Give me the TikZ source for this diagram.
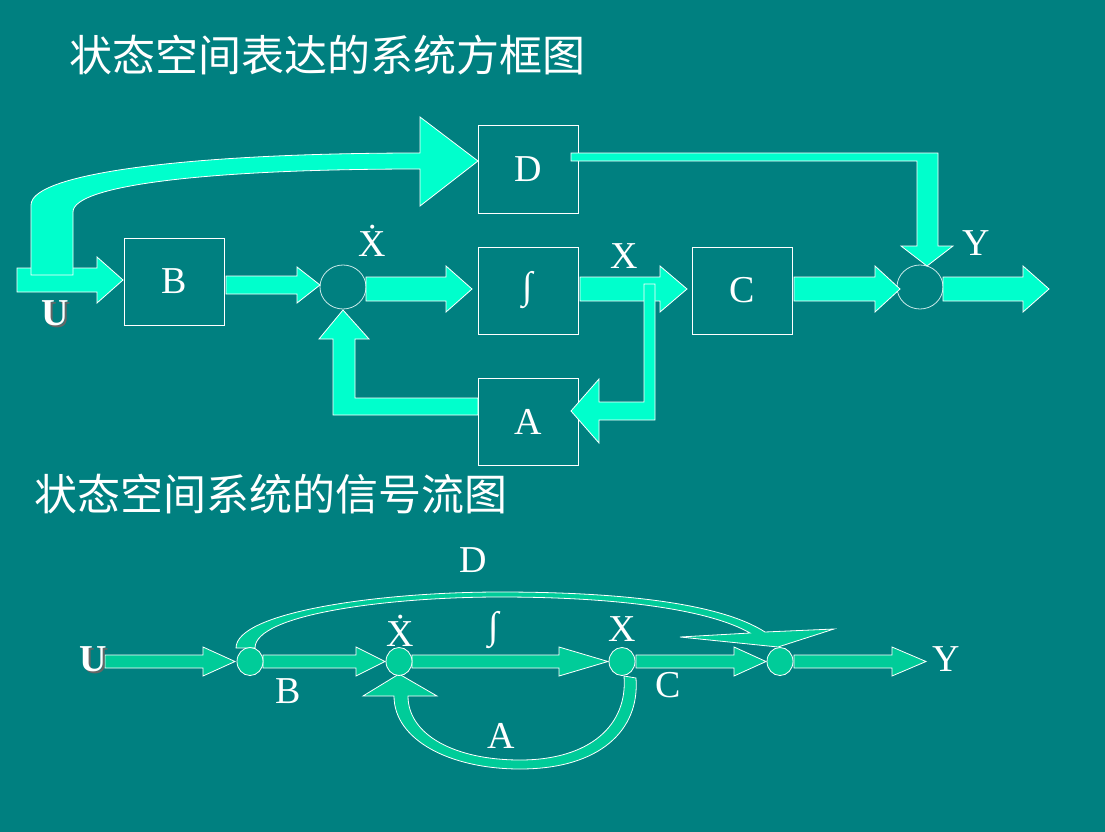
\documentclass[tikz,border=0pt]{standalone}
\usepackage{fontspec}
\setmainfont{Liberation Serif}
\newfontfamily\cjk{Noto Sans CJK SC}
\usetikzlibrary{shapes.geometric}
\definecolor{bg}{HTML}{008080}
\definecolor{cy}{HTML}{00FFCC}
\definecolor{gr}{HTML}{00CC99}
\definecolor{circ}{HTML}{C8E8E8}
\tikzset{
 blk/.style={draw=white, line width=1pt, minimum width=100pt, minimum height=87pt, inner sep=0pt, text=white, font=\fontsize{38}{42}\selectfont},
 lbl/.style={text=white, font=\fontsize{38}{42}\selectfont, inner sep=0pt},
 ulbl/.style={text=white, font=\bfseries\fontsize{38}{42}\selectfont, inner sep=0pt},
 ushadow/.style={text=black!60, font=\bfseries\fontsize{38}{42}\selectfont, inner sep=0pt},
 ttl/.style={text=white, font=\cjk\fontsize{43}{47}\selectfont, inner sep=0pt, anchor=west},
 barr/.style={fill=cy, draw=white, line width=0.8pt, line join=miter},
 garr/.style={fill=gr, draw=white, line width=0.8pt, line join=miter},
 sumnode/.style={draw=circ, line width=0.8pt, ellipse, minimum width=46pt, minimum height=44pt, inner sep=0pt},
 flownode/.style={fill=gr, draw=white, line width=0.8pt, ellipse, minimum width=26pt, minimum height=28pt, inner sep=0pt},
}
% style, x1, xh, xt, yc, half body, half head
\newcommand{\harr}[7]{%
 \path[#1] (#2,#5-#6) -- (#3,#5-#6) -- (#3,#5-#7) -- (#4,#5) -- (#3,#5+#7) -- (#3,#5+#6) -- (#2,#5+#6) -- cycle;}
\begin{document}
\begin{tikzpicture}[x=1pt,y=-1pt]
\fill[bg] (0,0) rectangle (1105,832);
\useasboundingbox (0,0) rectangle (1105,832);
% titles
\node[ttl] (t1) at (69,55) {状态空间表达的系统方框图};
\node[ttl] (t2) at (34,494) {状态空间系统的信号流图};
% ---------- block diagram ----------
\harr{barr}{17}{97}{123}{280}{12}{23}
\path[barr] (31,275) -- (31,205) .. controls (31,172) and (200,153) .. (420,153) -- (420,117) -- (478,161) -- (420,206) -- (420,169) .. controls (210,169) and (73,185) .. (73,212) -- (73,275) -- cycle;
\node[blk] (B) at (174,281.5) {B};
\node[blk] (D) at (528,169.5) {D};
\node[blk] (I) at (528,290.5) {∫};
\node[blk] (C) at (742,290.5) {C};
\node[blk] (A) at (528,421.5) {A};
\node[sumnode] (s1) at (343,287) {};
\node[sumnode] (s2) at (920,287) {};
\harr{barr}{226}{297}{320}{285}{9}{18}
\harr{barr}{366}{446}{472}{289}{12}{23}
\harr{barr}{580}{660}{687}{289}{12}{23}
\harr{barr}{794}{875}{900}{289}{12}{23}
\harr{barr}{943}{1023}{1049}{289}{12}{23}
% D -> sum2
\path[barr] (571,153) -- (938,153) -- (938,246) -- (953,246) -- (927,266) -- (901,246) -- (917,246) -- (917,161) -- (571,161) -- cycle;
% X branch -> A
\path[barr] (644,284) -- (655,284) -- (655,420) -- (599,420) -- (599,443) -- (571,411) -- (599,379) -- (599,402) -- (644,402) -- cycle;
% A -> sum1
\path[barr] (478,398) -- (355,398) -- (355,339) -- (369,339) -- (343,310) -- (319,339) -- (333,339) -- (333,415) -- (478,415) -- cycle;
% labels
\node[lbl, anchor=base] (xd1) at (372,256) {\.{X}};
\node[lbl, anchor=base] (x1) at (624,268) {X};
\node[lbl, anchor=base] (y1) at (976,255) {Y};
\node[ushadow, anchor=base] at (57,327) {U};
\node[ulbl, anchor=base] (u1) at (55,325) {U};
% ---------- signal flow graph ----------
\path[garr] (236,648) .. controls (236,612) and (380,592) .. (500,592) .. controls (620,592) and (720,603) .. (765,632) -- (834,629) -- (778,647) -- (680,637) -- (750,633) .. controls (710,610) and (620,597) .. (500,597) .. controls (390,597) and (255,614) .. (255,648) -- cycle;
\path[garr] (408,696) .. controls (408,735) and (455,760) .. (520,760) .. controls (590,760) and (628,725) .. (624,676) -- (636,678) .. controls (640,730) and (600,769) .. (520,769) .. controls (450,769) and (394,740) .. (394,696) -- (363,696) -- (399,674) -- (437,696) -- cycle;
\harr{garr}{105}{203}{235}{661.5}{6.5}{14.5}
\harr{garr}{263}{356}{385}{661.5}{6.5}{14.5}
\harr{garr}{412}{559}{608}{661.5}{6.5}{14.5}
\harr{garr}{636}{734}{766}{661.5}{6.5}{14.5}
\harr{garr}{794}{892}{926}{661.5}{6.5}{14.5}
\node[flownode] (n1) at (250,661.5) {};
\node[flownode] (n2) at (399,661.5) {};
\node[flownode] (n3) at (622,661.5) {};
\node[flownode] (n4) at (780,661.5) {};
\node[ushadow, anchor=base] at (95,673) {U};
\node[ulbl, anchor=base] (u2) at (93,671) {U};
\node[lbl, anchor=base] (y2) at (946,671) {Y};
\node[lbl, anchor=base] (d2) at (473,572) {D};
\node[lbl] (i2) at (494,630) {∫};
\node[lbl, anchor=base] (xd2) at (400,646) {\.{X}};
\node[lbl, anchor=base] (x2) at (622,641) {X};
\node[lbl, anchor=base] (b2) at (288,703) {B};
\node[lbl, anchor=base] (c2) at (668,697) {C};
\node[lbl, anchor=base] (a2) at (501,748) {A};
\end{tikzpicture}
\end{document}
